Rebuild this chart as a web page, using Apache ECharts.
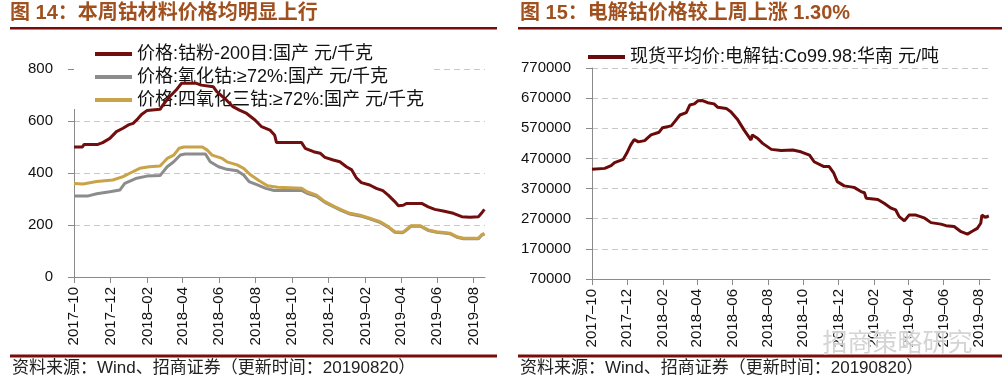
<!DOCTYPE html>
<html><head><meta charset="utf-8">
<script src="https://cdn.jsdelivr.net/npm/echarts@6/dist/echarts.min.js"></script>
<style>html,body{margin:0;padding:0;background:#fff}#c{width:1005px;height:391px}</style>
</head><body><div id="c"></div>
<script>
// ---- tick labels (shared by both panels) ----
const tickLabels = ['2017–10','2017–12','2018–02','2018–04','2018–06','2018–08','2018–10','2018–12','2019–02','2019–04','2019–06','2019–08'];
const axisStart = '2017-10-01';
const axisEnd = '2019-08-20';

// ---- left panel: 钴粉-200目 ----
const powderDates = ['2017-10-01','2017-10-15','2017-10-18','2017-11-10','2017-11-18','2017-11-30','2017-12-11','2017-12-22','2017-12-31','2018-01-08','2018-01-14','2018-01-22','2018-01-31','2018-02-22','2018-02-27','2018-03-10','2018-03-21','2018-03-30','2018-04-24','2018-05-02','2018-05-22','2018-05-28','2018-06-13','2018-06-24','2018-07-05','2018-07-17','2018-07-31','2018-08-11','2018-08-25','2018-09-02','2018-09-05','2018-10-17','2018-10-23','2018-11-06','2018-11-17','2018-11-25','2018-12-09','2018-12-20','2018-12-31','2019-01-09','2019-01-17','2019-01-25','2019-02-08','2019-02-19','2019-03-02','2019-03-11','2019-03-22','2019-03-28','2019-04-05','2019-04-11','2019-05-06','2019-05-17','2019-05-28','2019-06-11','2019-06-28','2019-07-12','2019-07-26','2019-08-09','2019-08-14','2019-08-19'];
const powderValues = [500,500,510,510,517,533,559,572,585,591,604,625,640,645,662,693,719,745,745,738,732,713,681,655,642,629,604,578,565,545,517,517,495,482,476,460,450,443,424,412,380,363,354,341,332,315,290,274,276,283,283,270,260,254,245,232,230,232,245,260];

// ---- left panel: 氧化钴 ≥72% ----
const oxideDates = ['2017-10-01','2017-10-25','2017-11-08','2017-11-30','2017-12-17','2017-12-25','2018-01-14','2018-01-31','2018-02-22','2018-03-06','2018-03-17','2018-03-28','2018-04-05','2018-05-09','2018-05-17','2018-05-31','2018-06-14','2018-07-01','2018-07-12','2018-07-21','2018-08-04','2018-08-18','2018-09-01','2018-10-17','2018-10-26','2018-11-11','2018-11-25','2018-12-12','2018-12-23','2019-01-06','2019-01-23','2019-02-08','2019-02-25','2019-03-11','2019-03-22','2019-04-04','2019-04-09','2019-04-18','2019-05-04','2019-05-17','2019-05-31','2019-06-23','2019-07-04','2019-07-15','2019-08-09','2019-08-14','2019-08-19'];
const oxideValues = [312,312,320,328,335,360,380,388,390,424,443,469,473,473,443,424,414,409,392,367,354,341,333,333,322,310,287,268,255,242,235,224,210,192,172,170,178,195,195,179,172,166,153,147,147,160,166];

// ---- left panel: 四氧化三钴 ≥72% ----
const tetroxDates = ['2017-10-01','2017-10-16','2017-11-08','2017-12-05','2017-12-22','2018-01-04','2018-01-19','2018-02-04','2018-02-22','2018-03-06','2018-03-17','2018-03-26','2018-04-03','2018-05-04','2018-05-12','2018-05-20','2018-06-06','2018-06-14','2018-07-01','2018-07-12','2018-07-24','2018-08-07','2018-08-21','2018-09-07','2018-10-17','2018-10-26','2018-11-11','2018-11-25','2018-12-12','2018-12-23','2019-01-06','2019-01-23','2019-02-08','2019-02-25','2019-03-11','2019-03-22','2019-04-04','2019-04-09','2019-04-18','2019-05-04','2019-05-17','2019-05-31','2019-06-23','2019-07-04','2019-07-15','2019-08-09','2019-08-14','2019-08-19'];
const tetroxValues = [360,358,367,373,386,401,418,424,427,456,469,495,500,500,488,469,456,443,431,418,392,370,351,345,341,328,315,290,270,258,245,238,226,213,194,174,172,180,197,197,181,174,168,155,149,149,162,168];

// ---- right panel: 现货平均价 电解钴 Co99.98 华南 ----
const cathodeDates = ['2017-10-01','2017-10-23','2017-11-03','2017-11-09','2017-11-24','2017-11-30','2017-12-07','2017-12-13','2017-12-20','2017-12-31','2018-01-11','2018-01-25','2018-01-31','2018-02-15','2018-02-21','2018-03-02','2018-03-13','2018-03-19','2018-03-27','2018-04-02','2018-04-10','2018-04-19','2018-04-30','2018-05-06','2018-05-21','2018-05-29','2018-06-10','2018-06-21','2018-07-03','2018-07-05','2018-07-14','2018-07-23','2018-08-07','2018-08-24','2018-09-13','2018-09-27','2018-10-12','2018-10-20','2018-11-06','2018-11-15','2018-11-23','2018-11-29','2018-12-11','2018-12-28','2019-01-09','2019-01-15','2019-01-18','2019-02-07','2019-02-18','2019-03-02','2019-03-10','2019-03-16','2019-03-25','2019-04-02','2019-04-14','2019-04-28','2019-05-10','2019-05-27','2019-06-05','2019-06-19','2019-07-01','2019-07-12','2019-07-21','2019-07-29','2019-08-04','2019-08-06','2019-08-12','2019-08-18'];
const cathodeValues = [434000,437000,446000,456000,467000,487000,515000,533000,525000,529000,548000,557000,572000,578000,592000,614000,622000,647000,651000,661000,662000,655000,651000,640000,636000,625000,598000,564000,531000,548000,537000,520000,500000,496000,498000,492000,481000,459000,443000,443000,421000,393000,379000,374000,360000,356000,338000,334000,321000,305000,299000,277000,263000,282000,282000,273000,257000,252000,247000,244000,227000,219000,229000,238000,255000,282000,275000,279000];

const toTime = s => { const p = s.split('-'); return new Date(+p[0], +p[1] - 1, +p[2]).getTime(); };
const pairs = (d, v) => d.map((x, i) => [toTime(x), v[i]]);
const tickTimes = tickLabels.map(s => { const p = s.split('–'); return new Date(+p[0], +p[1] - 1, 1).getTime(); });
const fmtTick = v => { const i = tickTimes.indexOf(v); return i >= 0 ? tickLabels[i] : ''; };

const FONT = "'Liberation Sans', Arial, 'Noto Sans CJK SC', sans-serif";
const CJK = "'Liberation Sans', 'Noto Sans CJK SC', sans-serif";
const AX = '#8a8a8a';

function xAxis(gi) {
  return {
    type: 'value', gridIndex: gi, min: toTime(axisStart), max: toTime(axisEnd),
    axisLine: { lineStyle: { color: AX, width: 1 } },
    axisTick: { show: true, length: 6, lineStyle: { color: AX }, customValues: tickTimes },
    axisLabel: { customValues: tickTimes, rotate: 90, margin: 10, fontSize: 15, color: '#111', fontFamily: FONT, formatter: fmtTick },
    splitLine: { show: false }
  };
}
function yAxis(gi, min, max, interval) {
  return {
    type: 'value', gridIndex: gi, min, max, interval,
    axisLine: { show: true, lineStyle: { color: AX } },
    axisTick: { show: true, length: 6, lineStyle: { color: AX } },
    axisLabel: { fontSize: 15, color: '#111', fontFamily: FONT, margin: 21, formatter: v => String(v) },
    splitLine: { show: true, lineStyle: { color: '#c8c8c8', type: [6, 4], width: 1 } }
  };
}
const lineSeries = (name, data, color, xi) => ({
  name, type: 'line', xAxisIndex: xi, yAxisIndex: xi, data, showSymbol: false, symbol: 'none',
  lineStyle: { color, width: 3 }, itemStyle: { color }, animation: false
});

const chart = echarts.init(document.getElementById('c'), null, { renderer: 'canvas' });
const titleColor = '#a0501e';
const ruleColor = '#7a0c0c';
const footer = '资料来源：Wind、招商证券（更新时间：20190820）';
chart.setOption({
  animation: false,
  backgroundColor: '#fff',
  grid: [
    { left: 74, top: 69, width: 411, height: 208 },
    { left: 592, top: 68, width: 398, height: 211 }
  ],
  xAxis: [xAxis(0), xAxis(1)],
  yAxis: [yAxis(0, 0, 800, 200), yAxis(1, 70000, 770000, 100000)],
  legend: [
    { orient: 'vertical', left: 74, top: 45, padding: [0, 6, 0, 21], itemGap: 5, itemWidth: 37, itemHeight: 4, icon: 'rect', backgroundColor: '#fff', z: 1,
      textStyle: { fontSize: 18, color: '#111', fontFamily: CJK },
      data: ['价格:钴粉-200目:国产 元/千克', '价格:氧化钴:≥72%:国产 元/千克', '价格:四氧化三钴:≥72%:国产 元/千克'] },
    { orient: 'vertical', left: 588, top: 48, padding: 0, itemWidth: 37, itemHeight: 4, icon: 'rect',
      textStyle: { fontSize: 18, color: '#111', fontFamily: CJK },
      data: ['现货平均价:电解钴:Co99.98:华南 元/吨'] }
  ],
  series: [
    lineSeries('价格:钴粉-200目:国产 元/千克', pairs(powderDates, powderValues), '#720e0e', 0),
    lineSeries('价格:氧化钴:≥72%:国产 元/千克', pairs(oxideDates, oxideValues), '#8c8c8c', 0),
    lineSeries('价格:四氧化三钴:≥72%:国产 元/千克', pairs(tetroxDates, tetroxValues), '#c9a347', 0),
    lineSeries('现货平均价:电解钴:Co99.98:华南 元/吨', pairs(cathodeDates, cathodeValues), '#6a0a0a', 1)
  ],
  graphic: [
    { type: 'text', left: 10, top: 3, style: { text: '图 14：本周钴材料价格均明显上行', fill: titleColor, font: "bold 20px " + CJK } },
    { type: 'text', left: 520, top: 3, style: { text: '图 15：电解钴价格较上周上涨 1.30%', fill: titleColor, font: "bold 20px " + CJK } },
    { type: 'rect', shape: { x: 10, y: 27, width: 487, height: 2.5 }, style: { fill: ruleColor } },
    { type: 'rect', shape: { x: 518, y: 27, width: 484, height: 2.5 }, style: { fill: ruleColor } },
    { type: 'rect', shape: { x: 10, y: 354.5, width: 487, height: 3 }, style: { fill: ruleColor } },
    { type: 'rect', shape: { x: 518, y: 354.5, width: 484, height: 3 }, style: { fill: ruleColor } },
    { type: 'text', left: 12, top: 360, style: { text: footer, fill: '#222', font: "17px " + CJK } },
    { type: 'text', left: 520, top: 360, style: { text: footer, fill: '#222', font: "17px " + CJK } },
    { type: 'text', left: 822, top: 331, z: 100, style: { text: '招商策略研究', fill: 'rgba(205,205,205,0.85)', stroke: '#fff', lineWidth: 1, font: "25px " + CJK } }
  ]
});
</script></body></html>
